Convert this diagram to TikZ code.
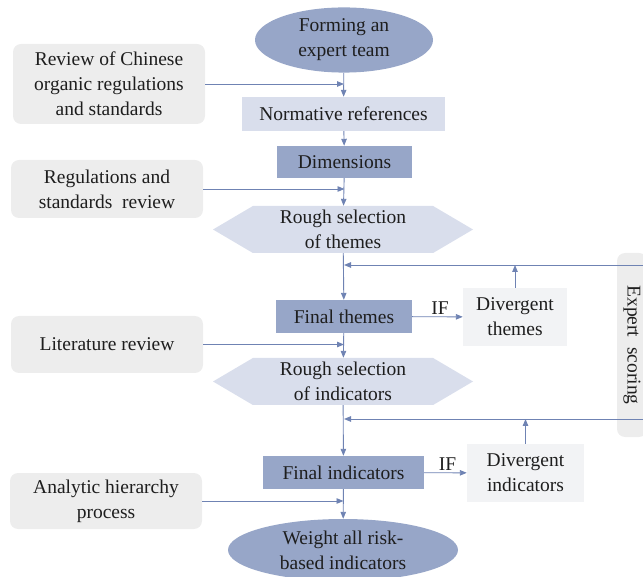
\documentclass[tikz,border=0pt]{standalone}
\usepackage{fontspec}
\setmainfont{Liberation Serif}
\usetikzlibrary{arrows.meta,positioning,shapes.geometric,shapes.symbols}

\definecolor{deepblue}{HTML}{97A6C8}
\definecolor{paleblue}{HTML}{D9DEEC}
\definecolor{softgray}{HTML}{EDEDED}
\definecolor{mistgray}{HTML}{F2F3F5}
\definecolor{linkblue}{HTML}{6F83B3}
\definecolor{inkgray}{HTML}{1E1E1E}

\begin{document}
\begin{tikzpicture}[
  x=1pt, y=-1pt,
  font=\fontsize{19.5}{25}\selectfont,
  text=inkgray,
  every node/.style={align=center, inner sep=2pt},
  oval/.style={ellipse, fill=deepblue},
  src/.style={rounded corners=8pt, fill=softgray, minimum width=192pt},
  refbox/.style={fill=paleblue},
  keybox/.style={fill=deepblue},
  hexa/.style={signal, signal to=west and east, signal pointer angle=61,
               fill=paleblue, minimum width=260pt, minimum height=47pt},
  divbox/.style={fill=mistgray},
  arr/.style={-{Triangle[length=7pt,width=5.5pt]}, draw=linkblue, line width=0.9pt},
  ln/.style={draw=linkblue, line width=0.9pt}
]
\useasboundingbox (0,0) rectangle (643,577);

% main column
\node[oval, minimum width=178pt, minimum height=65pt] (team) at (344,40) {Forming an\\expert team};
\node[refbox, minimum width=203pt, minimum height=34pt] (norm) at (343.5,114) {Normative references};
\node[keybox, minimum width=135pt, minimum height=32pt] (dim) at (344.5,162) {Dimensions};
\node[hexa] (roughthm) at (343,229.5) {Rough selection\\of themes};
\node[keybox, minimum width=136pt, minimum height=33pt] (finthm) at (344,316.5) {Final themes};
\node[hexa] (roughind) at (343,381.5) {Rough selection\\of indicators};
\node[keybox, minimum width=161pt, minimum height=33pt] (finind) at (343.5,472.5) {Final indicators};
\node[oval, minimum width=230pt, minimum height=62pt] (weight) at (343,550) {Weight all risk-\\based indicators};

% sources on the left
\node[src, minimum height=80pt] (chn) at (109,84) {Review of Chinese\\organic regulations\\and standards};
\node[src, minimum height=58pt] (regs) at (107,189) {Regulations and\\standards~~review};
\node[src, minimum height=57pt] (lit) at (107,344.5) {Literature review};
\node[src, minimum height=56pt] (ahp) at (106,501) {Analytic hierarchy\\process};

% divergence and scoring
\node[divbox, minimum width=104pt, minimum height=58pt] (divthm) at (515,317) {Divergent\\themes};
\node[divbox, minimum width=117pt, minimum height=58pt] (divind) at (525.5,473) {Divergent\\indicators};
\node[rounded corners=8pt, fill=softgray, rotate=-90, minimum width=184pt, minimum height=30pt]
  (expert) at (632,345) {Expert~~scoring};

\coordinate (fbthm) at (344,265);
\coordinate (fbind) at (344,419);

% flow
\draw[arr] (team) -- (norm);
\draw[arr] (norm) -- (dim);
\draw[arr] (dim) -- (roughthm);
\draw[arr] (roughthm) -- (finthm);
\draw[arr] (finthm) -- (roughind);
\draw[arr] (roughind) -- (finind);
\draw[arr] (finind) -- (weight);

\foreach \s/\t in {chn/team, regs/dim, lit/finthm, ahp/finind} {
  \draw[arr] (\s.east) -- (\s.east -| \t.south);
}

\draw[arr] (finthm) -- node[above, pos=0.55] {IF} (divthm);
\draw[arr] (finind) -- node[above, pos=0.55] {IF} (divind);
\draw[arr] (divthm) -- (divthm |- fbthm);
\draw[arr] (divind) -- (divind |- fbind);
\draw[arr] (fbthm -| expert.north) -- (fbthm);
\draw[arr] (fbind -| expert.north) -- (fbind);
\end{tikzpicture}
\end{document}
